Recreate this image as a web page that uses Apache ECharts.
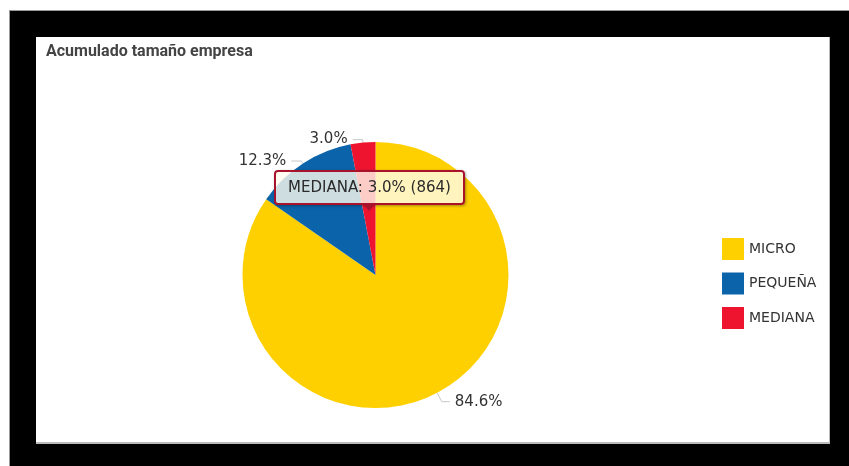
<!DOCTYPE html>
<html>
<head>
<meta charset="utf-8">
<script src="https://cdn.jsdelivr.net/npm/echarts@6/dist/echarts.min.js"></script>
<style>
  html, body { margin: 0; padding: 0; background: #fff; width: 849px; height: 466px; overflow: hidden; }
  #frame { position: absolute; left: 9px; top: 10px; width: 840px; height: 456px; background: #000;
           border-left: 1px solid #999; border-top: 1px solid #999; box-sizing: border-box; }
  #panel { position: absolute; left: 36px; top: 37px; width: 794px; height: 407px; background: #fff;
           border-right: 1px solid #bbb; border-bottom: 2px solid #bbb; box-sizing: border-box; }
  #main { width: 793px; height: 405px; }
</style>
</head>
<body>
<div id="frame"></div>
<div id="panel"><div id="main"></div></div>
<script>
const categories = ['MICRO', 'PEQUEÑA', 'MEDIANA']
const values = [24294, 3542, 864]
const colors = ['#ffd000', '#0b63aa', '#ee1430']

const total = values.reduce((a, b) => a + b, 0)
const pct = v => (v / total * 100).toFixed(1) + '%'

const chartDom = document.getElementById('main');
const myChart = echarts.init(chartDom);

const option = {
  animation: false,
  title: {
    text: 'Acumulado tamaño empresa',
    left: 5,
    top: 2,
    textStyle: {
      fontFamily: 'Roboto',
      fontSize: 16,
      fontWeight: 'bold',
      color: '#444'
    }
  },
  tooltip: {
    trigger: 'item',
    triggerOn: 'none',
    alwaysShowContent: true,
    transitionDuration: 0,
    backgroundColor: 'rgba(255, 251, 238, 0.8)',
    borderColor: '#a8132b',
    borderWidth: 2,
    borderRadius: 4,
    padding: [4, 12],
    extraCssText: 'box-shadow: 1px 1px 3px rgba(0,0,0,0.35);',
    textStyle: {
      fontFamily: 'DejaVu Sans',
      fontSize: 15,
      color: '#2a2a2a'
    },
    formatter: function (p) {
      return p.name + ': ' + pct(p.value) + ' (' + p.value + ')' +
        '<div style="position:absolute;left:50%;bottom:-8px;margin-left:-6px;width:0;height:0;' +
        'border-left:6px solid transparent;border-right:6px solid transparent;border-top:7px solid #a8132b;"></div>'
    },
    position: function (point, params, dom, rect, size) {
      const layout = myChart.getModel().getSeriesByIndex(0).getData().getItemLayout(params.dataIndex)
      const mid = (layout.startAngle + layout.endAngle) / 2
      const tipX = layout.cx + Math.cos(mid) * layout.r * 0.5
      const tipY = layout.cy + Math.sin(mid) * layout.r * 0.5
      return [tipX - size.contentSize[0] / 2, tipY - size.contentSize[1] - 4]
    }
  },
  legend: {
    orient: 'vertical',
    left: 681,
    top: 196,
    icon: 'rect',
    itemWidth: 22,
    itemHeight: 22,
    itemGap: 12.5,
    selectedMode: false,
    textStyle: {
      fontFamily: 'DejaVu Sans',
      fontSize: 14,
      color: '#333'
    },
    data: categories
  },
  series: [
    {
      name: 'Acumulado tamaño empresa',
      type: 'pie',
      center: [339.5, 238],
      radius: 133,
      startAngle: 90,
      clockwise: true,
      emphasis: { scale: false },
      label: {
        show: true,
        formatter: function (p) { return pct(p.value) },
        fontFamily: 'DejaVu Sans',
        fontSize: 15,
        color: '#333'
      },
      labelLine: {
        length: 3,
        length2: 10,
        lineStyle: { color: '#c8c8c8', width: 1 }
      },
      data: categories.map((name, i) => ({
        name: name,
        value: values[i],
        itemStyle: { color: colors[i] },
        // the big slice's label sits a bit further out
        labelLine: i === 0 ? { length: 10, length2: 8 } : undefined
      }))
    }
  ]
};

option && myChart.setOption(option);
myChart.dispatchAction({ type: 'showTip', seriesIndex: 0, dataIndex: 2 });
</script>
</body>
</html>
